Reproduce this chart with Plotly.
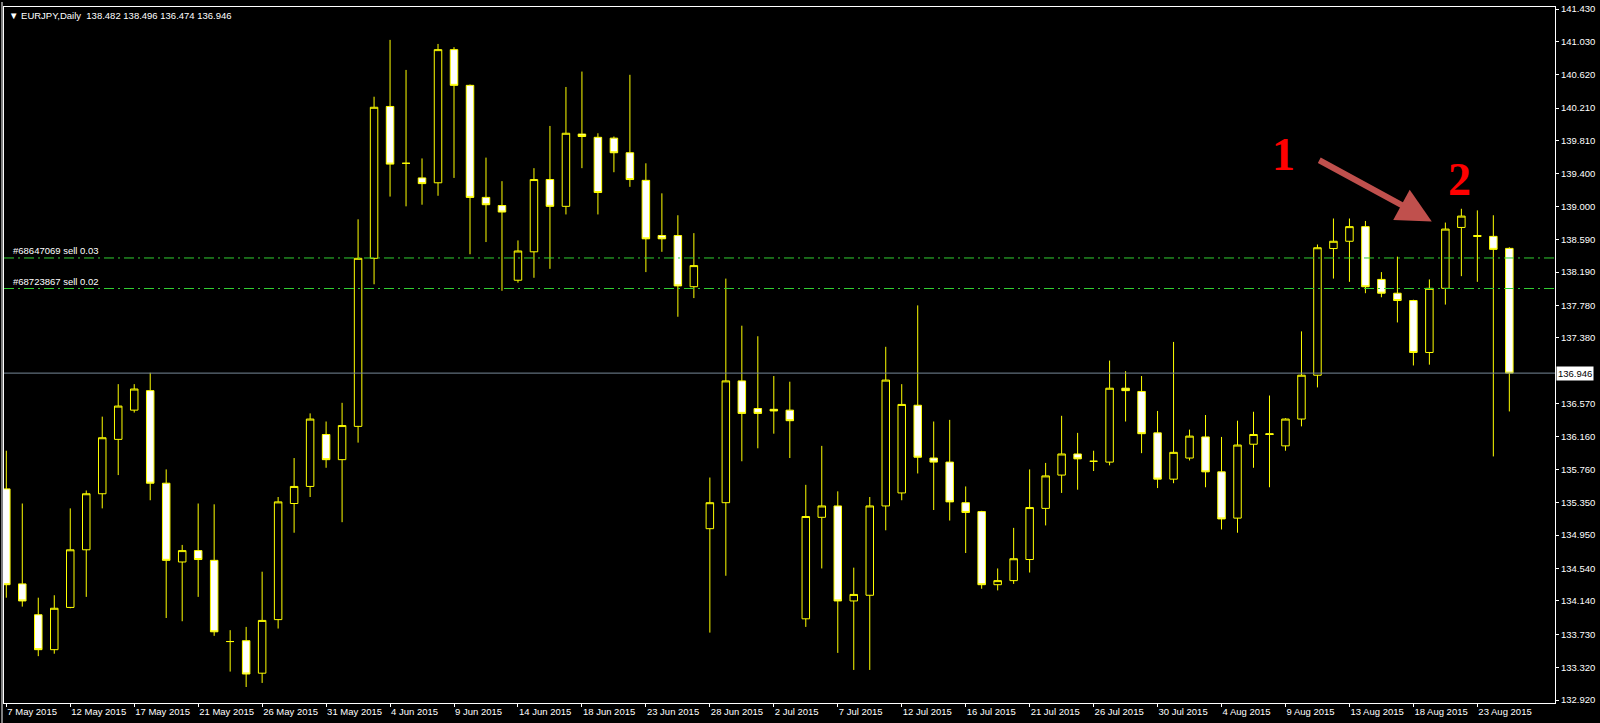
import plotly.graph_objects as go
from datetime import date

# ---------------- data ----------------
dates = [
    "2015-05-07", "2015-05-08", "2015-05-10", "2015-05-11", "2015-05-12", "2015-05-13", "2015-05-14",
    "2015-05-15", "2015-05-17", "2015-05-18", "2015-05-19", "2015-05-20", "2015-05-21", "2015-05-22",
    "2015-05-24", "2015-05-25", "2015-05-26", "2015-05-27", "2015-05-28", "2015-05-29", "2015-05-31",
    "2015-06-01", "2015-06-02", "2015-06-03", "2015-06-04", "2015-06-05", "2015-06-07", "2015-06-08",
    "2015-06-09", "2015-06-10", "2015-06-11", "2015-06-12", "2015-06-14", "2015-06-15", "2015-06-16",
    "2015-06-17", "2015-06-18", "2015-06-19", "2015-06-21", "2015-06-22", "2015-06-23", "2015-06-24",
    "2015-06-25", "2015-06-26", "2015-06-28", "2015-06-29", "2015-06-30", "2015-07-01", "2015-07-02",
    "2015-07-03", "2015-07-05", "2015-07-06", "2015-07-07", "2015-07-08", "2015-07-09", "2015-07-10",
    "2015-07-12", "2015-07-13", "2015-07-14", "2015-07-15", "2015-07-16", "2015-07-17", "2015-07-19",
    "2015-07-20", "2015-07-21", "2015-07-22", "2015-07-23", "2015-07-24", "2015-07-26", "2015-07-27",
    "2015-07-28", "2015-07-29", "2015-07-30", "2015-07-31", "2015-08-02", "2015-08-03", "2015-08-04",
    "2015-08-05", "2015-08-06", "2015-08-07", "2015-08-09", "2015-08-10", "2015-08-11", "2015-08-12",
    "2015-08-13", "2015-08-14", "2015-08-16", "2015-08-17", "2015-08-18", "2015-08-19", "2015-08-20",
    "2015-08-21", "2015-08-23", "2015-08-24", "2015-08-25",
]

opens = [
    135.52, 134.35, 133.97, 133.54, 134.06, 134.77, 135.46, 136.13, 136.49, 136.73,
    135.59, 134.62, 134.76, 134.64, 133.64, 133.65, 133.25, 133.91, 135.34, 135.55,
    136.19, 135.88, 136.29, 138.36, 140.23, 139.53, 139.35, 139.29, 140.93, 140.49,
    139.11, 139.01, 138.09, 138.44, 139.33, 139.00, 139.89, 139.85, 139.84, 139.66,
    139.32, 138.64, 138.64, 138.01, 135.03, 135.35, 136.85, 136.51, 136.50, 136.49,
    133.92, 135.17, 135.31, 134.14, 134.21, 135.31, 135.47, 136.55, 135.90, 135.85,
    135.35, 135.24, 134.34, 134.39, 134.65, 135.28, 135.69, 135.95, 135.86, 135.85,
    136.76, 136.72, 136.21, 135.64, 135.90, 136.16, 135.73, 135.16, 136.07, 136.20,
    136.05, 136.38, 136.92, 138.48, 138.57, 138.75, 138.10, 137.93, 137.84, 137.20,
    137.99, 138.74, 138.64, 138.63, 138.482,
]

highs = [
    135.99, 135.34, 134.18, 134.21, 135.28, 135.50, 136.41, 136.81, 136.81, 136.95,
    135.76, 134.83, 135.34, 135.33, 133.78, 133.82, 134.50, 135.42, 135.90, 136.45,
    136.35, 136.58, 138.84, 140.35, 141.05, 140.68, 139.59, 141.00, 140.96, 140.50,
    139.60, 139.31, 138.58, 139.47, 139.99, 140.47, 140.66, 139.90, 139.86, 140.62,
    139.53, 139.16, 138.89, 138.67, 135.66, 138.11, 137.53, 137.40, 136.91, 136.84,
    135.57, 136.05, 135.49, 134.55, 135.42, 137.27, 136.81, 137.78, 136.35, 136.37,
    135.55, 135.25, 134.54, 135.04, 135.76, 135.84, 136.42, 136.21, 135.99, 137.10,
    136.97, 136.91, 136.48, 137.33, 136.25, 136.43, 136.16, 136.36, 136.47, 136.67,
    136.39, 137.46, 138.53, 138.85, 138.85, 138.82, 138.19, 138.38, 137.85, 138.10,
    138.80, 138.97, 138.95, 138.89, 138.496,
]

lows = [
    134.18, 134.07, 133.46, 133.49, 134.05, 134.19, 135.28, 135.69, 136.46, 135.38,
    133.93, 133.89, 134.19, 133.71, 133.27, 133.08, 133.13, 133.80, 134.98, 135.42,
    135.78, 135.11, 136.09, 138.04, 139.12, 139.00, 139.02, 139.13, 139.35, 138.41,
    138.56, 137.96, 138.06, 138.12, 138.23, 138.90, 139.47, 138.90, 139.42, 139.24,
    138.19, 138.44, 137.64, 137.87, 133.75, 134.45, 135.86, 136.02, 136.20, 135.90,
    133.82, 134.54, 133.50, 133.29, 133.29, 135.01, 135.38, 135.71, 135.26, 135.13,
    134.73, 134.29, 134.27, 134.35, 134.49, 135.07, 135.47, 135.51, 135.74, 135.81,
    136.35, 135.96, 135.53, 135.59, 135.87, 135.54, 135.02, 134.98, 135.78, 135.54,
    135.99, 136.29, 136.77, 138.11, 138.07, 137.93, 137.88, 137.57, 137.04, 137.05,
    137.79, 138.14, 138.07, 135.92, 136.474,
]

closes = [
    134.34, 134.14, 133.54, 134.05, 134.77, 135.46, 136.15, 136.54, 136.75, 135.59,
    134.64, 134.76, 134.65, 133.76, 133.64, 133.24, 133.90, 135.36, 135.55, 136.38,
    135.88, 136.30, 138.36, 140.22, 139.52, 139.53, 139.28, 140.93, 140.49, 139.11,
    139.02, 138.93, 138.45, 139.33, 139.00, 139.90, 139.86, 139.17, 139.66, 139.33,
    138.60, 138.60, 138.02, 138.27, 135.35, 136.85, 136.45, 136.45, 136.48, 136.36,
    135.18, 135.31, 134.14, 134.22, 135.31, 136.86, 136.56, 135.91, 135.85, 135.36,
    135.23, 134.34, 134.39, 134.66, 135.29, 135.68, 135.95, 135.89, 135.86, 136.76,
    136.73, 136.20, 135.64, 135.97, 136.17, 135.73, 135.15, 136.06, 136.19, 136.19,
    136.38, 136.92, 138.49, 138.57, 138.75, 138.01, 137.93, 137.84, 137.20, 137.99,
    138.72, 138.88, 138.63, 138.47, 136.946,
]

price_ticks = [141.430, 141.030, 140.620, 140.210, 139.810, 139.400, 139.000, 138.590,
               138.190, 137.780, 137.380, 136.570, 136.160, 135.760, 135.350, 134.950,
               134.540, 134.140, 133.730, 133.320, 132.920]

order_lines = [("#68647069 sell 0.03", 138.364), ("#68723867 sell 0.02", 137.988)]
symbol_title = "EURJPY,Daily"
bid_price = closes[-1]
marks = [("1", 79.9, 139.64), ("2", 90.9, 139.33)]

# ---------------- figure ----------------
MONTHS = ["Jan", "Feb", "Mar", "Apr", "May", "Jun", "Jul", "Aug", "Sep", "Oct", "Nov", "Dec"]


def fmt_date(s):
    d = date.fromisoformat(s)
    return f"{d.day} {MONTHS[d.month - 1]} {d.year}"


tick_dates = dates[::4]
tick_text = [fmt_date(s) for s in tick_dates]

FONT = "Liberation Sans, Arial, sans-serif"
YELLOW = "#ffff00"

fig = go.Figure()
fig.add_trace(go.Candlestick(
    x=dates, open=opens, high=highs, low=lows, close=closes,
    increasing=dict(line=dict(color=YELLOW, width=1), fillcolor="#000000"),
    decreasing=dict(line=dict(color=YELLOW, width=1), fillcolor="#ffffff"),
    whiskerwidth=0, hoverinfo="skip", showlegend=False,
))

shapes = [
    # thin grey window edge on the left
    dict(type="rect", xref="paper", yref="paper", x0=-3 / 1552, x1=-1 / 1552, y0=-20 / 698, y1=1 + 5 / 698,
         fillcolor="#808080", line=dict(width=0), layer="above"),
    dict(type="line", xref="paper", x0=0, x1=1, yref="y", y0=bid_price, y1=bid_price,
         line=dict(color="#778899", width=1), layer="above"),
]
for _, p in order_lines:
    shapes.append(dict(type="line", xref="paper", x0=0, x1=1, yref="y", y0=p, y1=p,
                       line=dict(color="#32cd32", width=1, dash="10px,4px,2px,4px"), layer="above"))

annotations = []
header = "\u25bc " + symbol_title + "\u00a0\u00a0" + " ".join(
    f"{v:.3f}" for v in (opens[-1], highs[-1], lows[-1], closes[-1]))
annotations.append(dict(xref="paper", yref="paper", x=0, y=1, xanchor="left", yanchor="top",
                        xshift=3, yshift=-1, text=header, showarrow=False,
                        font=dict(family=FONT, size=9.5, color="#ffffff")))
for label, p in order_lines:
    annotations.append(dict(xref="paper", yref="y", x=0, y=p, xanchor="left", yanchor="bottom",
                            xshift=7, yshift=0, text=label, showarrow=False,
                            font=dict(family=FONT, size=9.5, color="#ffffff")))
annotations.append(dict(xref="paper", yref="y", x=1, y=bid_price, xanchor="left", yanchor="middle",
                        xshift=1, text=f"{bid_price:.3f}", showarrow=False, bgcolor="#ffffff",
                        borderpad=1, font=dict(family=FONT, size=9.5, color="#000000")))
# hand-drawn marks "1", "2" and the arrow between them
for txt, mx, my in marks:
    annotations.append(dict(xref="x", yref="y", x=mx, y=my, text=f"<b>{txt}</b>", showarrow=False,
                            font=dict(family="Liberation Serif, Times New Roman, serif", size=46,
                                      color="#ff0000")))
annotations.append(dict(xref="x", yref="y", x=89.15, y=138.814, ax=-114, ay=-62, text="",
                        showarrow=True, arrowhead=2, arrowwidth=6, arrowsize=1.15,
                        arrowcolor="#c0504d"))

fig.update_layout(
    width=1600, height=723,
    paper_bgcolor="#000000", plot_bgcolor="#000000",
    margin=dict(l=3, r=45, t=5, b=20, pad=0),
    showlegend=False,
    shapes=shapes, annotations=annotations,
    boxgap=0.33,
    xaxis=dict(
        type="category", range=[-0.144, 96.856], rangeslider=dict(visible=False),
        tickmode="array", tickvals=tick_dates, ticktext=tick_text,
        ticks="outside", ticklen=3, tickcolor="#ffffff", ticklabelposition="outside right",
        showline=True, linecolor="#ffffff", linewidth=1, mirror=True,
        showgrid=False, zeroline=False,
        tickfont=dict(family=FONT, size=9.5, color="#ffffff"),
    ),
    yaxis=dict(
        side="right", range=[132.883, 141.455],
        tickmode="array", tickvals=price_ticks, ticktext=[f"{v:.3f}" for v in price_ticks],
        ticks="outside", ticklen=3, tickcolor="#ffffff",
        showline=True, linecolor="#ffffff", linewidth=1, mirror=True,
        showgrid=False, zeroline=False,
        tickfont=dict(family=FONT, size=9.5, color="#ffffff"),
    ),
)

fig.write_html("out.html", config={"displayModeBar": False},
               post_script="document.body.style.margin='0';document.body.style.overflow='hidden';")
